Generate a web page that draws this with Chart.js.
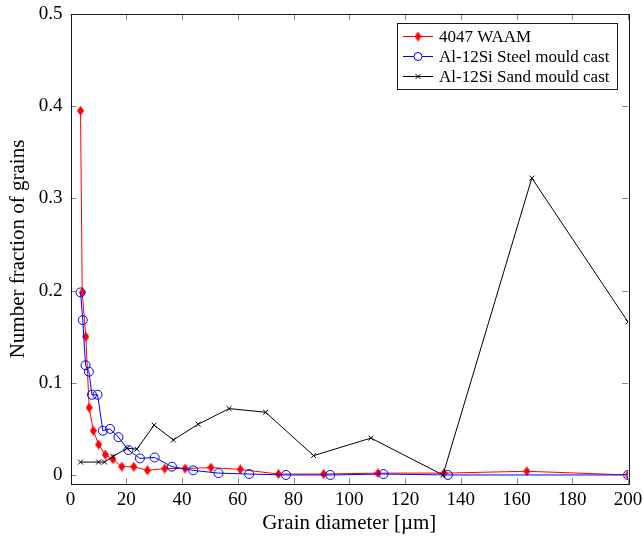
<!DOCTYPE html>
<html>
<head>
<meta charset="utf-8">
<script src="https://cdn.jsdelivr.net/npm/chart.js@4/dist/chart.umd.min.js"></script>
<style>
  html, body { margin: 0; padding: 0; background: #ffffff; }
  #wrap { width: 643px; height: 539px; position: relative; }
</style>
</head>
<body>
<div id="wrap"><canvas id="c" width="643" height="539"></canvas></div>
<script>
// ---- data ----
const waamLabel = '4047 WAAM';
const waamX = [3.6, 4.2, 5.5, 6.7, 8.2, 10.1, 12.5, 15.2, 18.4, 22.7, 27.6, 33.8, 41.1, 50.4, 60.9, 74.6, 90.8, 110.3, 134.0, 163.7, 200];
const waamY = [0.395, 0.198, 0.150, 0.073, 0.048, 0.033, 0.022, 0.017, 0.009, 0.009, 0.005, 0.007, 0.007, 0.008, 0.006, 0.001, 0.001, 0.002, 0.002, 0.004, 0.0];

const steelLabel = 'Al-12Si Steel mould cast';
const steelX = [3.6, 4.4, 5.4, 6.6, 7.7, 9.7, 11.6, 14.2, 17.2, 20.8, 24.9, 30.2, 36.4, 44.0, 53.1, 64.1, 77.3, 93.2, 112.3, 135.4, 200];
const steelY = [0.198, 0.168, 0.119, 0.112, 0.087, 0.087, 0.048, 0.050, 0.041, 0.027, 0.018, 0.019, 0.009, 0.005, 0.002, 0.001, 0.0, 0.0, 0.001, 0.0, 0.0];

const sandLabel = 'Al-12Si Sand mould cast';
const sandX = [3.6, 10.1, 12.2, 15.2, 20.3, 23.8, 30.0, 36.9, 45.8, 56.9, 70.0, 87.2, 107.8, 133.6, 165.5, 200];
const sandY = [0.014, 0.014, 0.014, 0.020, 0.029, 0.028, 0.054, 0.038, 0.055, 0.072, 0.068, 0.021, 0.040, 0.0, 0.322, 0.166];

const xTitle = 'Grain diameter [µm]';
const yTitle = 'Number fraction of grains';

// ---- helpers ----
function pts(xs, ys) { return xs.map((x, i) => ({ x: x, y: ys[i] })); }

function diamondImage(color) {
  const w = 7, h = 10;
  const c = document.createElement('canvas');
  c.width = w; c.height = h;
  const g = c.getContext('2d');
  g.fillStyle = color;
  g.beginPath();
  g.moveTo(w / 2, 0); g.lineTo(w, h / 2); g.lineTo(w / 2, h); g.lineTo(0, h / 2);
  g.closePath(); g.fill();
  return c;
}
const redDiamond = diamondImage('#ff0000');

const FONT = '"Liberation Serif", "DejaVu Serif", serif';

const framePlugin = {
  id: 'frameTicks',
  afterDatasetsDraw(chart) {
    const ctx = chart.ctx;
    const a = chart.chartArea;
    const xs = chart.scales.x, ys = chart.scales.y;
    ctx.save();
    // inward ticks
    ctx.strokeStyle = '#8a8a8a';
    ctx.lineWidth = 1;
    const L = 6;
    ctx.beginPath();
    xs.ticks.forEach(t => {
      const px = Math.round(xs.getPixelForValue(t.value)) + 0.5;
      ctx.moveTo(px, a.bottom); ctx.lineTo(px, a.bottom - L);
      ctx.moveTo(px, a.top); ctx.lineTo(px, a.top + L);
    });
    ys.ticks.forEach(t => {
      const py = Math.round(ys.getPixelForValue(t.value)) + 0.5;
      ctx.moveTo(a.left, py); ctx.lineTo(a.left + L, py);
      ctx.moveTo(a.right, py); ctx.lineTo(a.right - L, py);
    });
    ctx.stroke();
    // frame
    ctx.strokeStyle = '#1a1a1a';
    ctx.lineWidth = 1;
    ctx.strokeRect(Math.round(a.left) + 0.5, Math.round(a.top) + 0.5,
                   Math.round(a.right - a.left), Math.round(a.bottom - a.top));
    ctx.restore();
  },
  afterDraw(chart) {
    // legend box inside the plot area (top right)
    const ctx = chart.ctx;
    const bx = 397.5, by = 23.5, bw = 220, bh = 66;
    ctx.save();
    ctx.fillStyle = '#ffffff';
    ctx.fillRect(bx, by, bw, bh);
    ctx.strokeStyle = '#1a1a1a';
    ctx.lineWidth = 1;
    ctx.strokeRect(bx, by, bw, bh);
    ctx.font = '17px ' + FONT;
    ctx.textBaseline = 'middle';
    ctx.fillStyle = '#000';
    chart.data.datasets.forEach((ds, i) => {
      const cy = 36.5 + i * 20;
      ctx.strokeStyle = ds.borderColor;
      ctx.lineWidth = 1;
      ctx.beginPath(); ctx.moveTo(403, cy); ctx.lineTo(433, cy); ctx.stroke();
      const mx = 418;
      if (i === 0) {
        ctx.drawImage(redDiamond, mx - 3.5, cy - 5);
      } else if (i === 1) {
        ctx.beginPath(); ctx.arc(mx, cy, 4, 0, Math.PI * 2); ctx.fillStyle = '#fff'; ctx.fill(); ctx.stroke();
      } else {
        ctx.beginPath();
        ctx.moveTo(mx - 2.5, cy - 2.5); ctx.lineTo(mx + 2.5, cy + 2.5);
        ctx.moveTo(mx + 2.5, cy - 2.5); ctx.lineTo(mx - 2.5, cy + 2.5);
        ctx.stroke();
      }
      ctx.fillStyle = '#000';
      ctx.fillText(ds.label, 439, cy + 1);
    });
    ctx.restore();
  }
};

new Chart(document.getElementById('c'), {
  type: 'line',
  data: {
    datasets: [
      {
        label: waamLabel, data: pts(waamX, waamY), order: 3,
        borderColor: '#ff0000', backgroundColor: '#ff0000', borderWidth: 1,
        pointStyle: redDiamond, pointRadius: 5, tension: 0
      },
      {
        label: steelLabel, data: pts(steelX, steelY), order: 2,
        borderColor: '#0000ff', backgroundColor: 'rgba(0,0,0,0)', borderWidth: 1,
        pointStyle: 'circle', pointRadius: 4.5, pointBorderWidth: 1, tension: 0
      },
      {
        label: sandLabel, data: pts(sandX, sandY), order: 1,
        borderColor: '#000000', backgroundColor: '#000000', borderWidth: 1,
        pointStyle: 'crossRot', pointRadius: 3.5, pointBorderWidth: 1, tension: 0
      }
    ]
  },
  options: {
    responsive: false,
    animation: false,
    layout: { padding: { top: 14, right: 15, left: 0, bottom: 0 } },
    plugins: { legend: { display: false }, tooltip: { enabled: false } },
    scales: {
      x: {
        type: 'linear', min: 0, max: 200,
        grid: { display: false, drawTicks: false },
        border: { display: false },
        ticks: { stepSize: 20, maxRotation: 0, padding: 5, color: '#000', font: { family: FONT, size: 19 } },
        title: { display: true, text: xTitle, color: '#000', font: { family: FONT, size: 21 }, padding: { top: 0, bottom: 3 } },
        afterFit(s) { s.height = 55; s.paddingLeft = 0; s.paddingRight = 0; }
      },
      y: {
        type: 'linear', min: -0.0098, max: 0.5,
        grid: { display: false, drawTicks: false },
        border: { display: false },
        ticks: {
          stepSize: 0.1, includeBounds: false, padding: 8, color: '#000',
          font: { family: FONT, size: 19 },
          callback: v => (Math.abs(v) < 1e-9 ? '0' : (Math.round(v * 10) / 10).toString())
        },
        title: { display: true, text: yTitle, color: '#000', font: { family: FONT, size: 21 }, padding: { top: 6, bottom: 0 } },
        afterFit(s) { s.width = 70.5; s.paddingTop = 0; s.paddingBottom = 0; }
      }
    }
  },
  plugins: [framePlugin]
});
</script>
</body>
</html>
